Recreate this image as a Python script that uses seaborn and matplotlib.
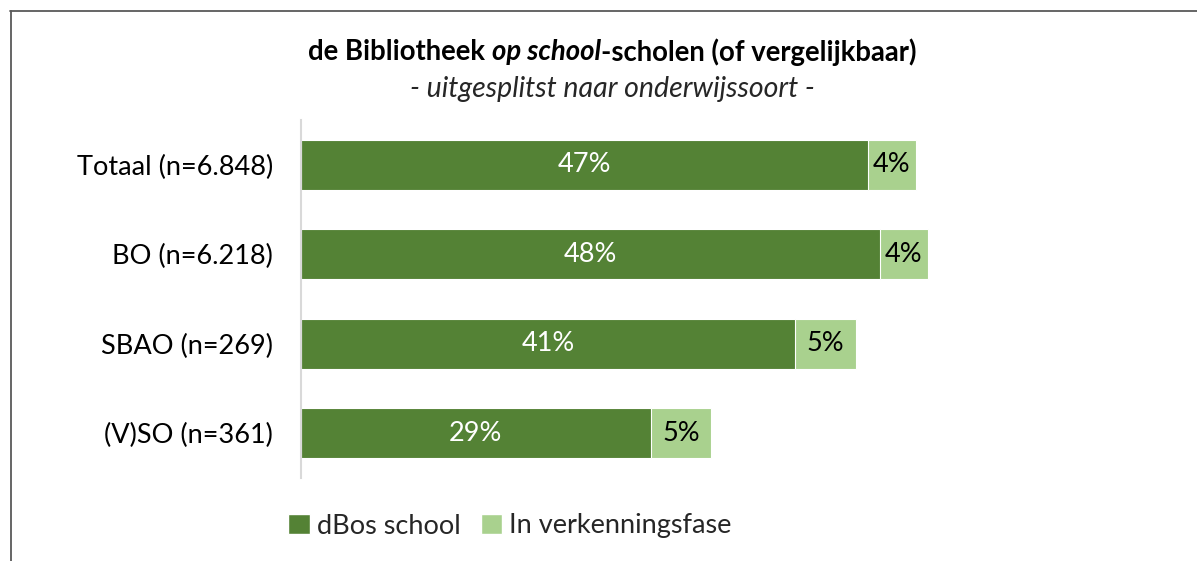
import matplotlib
matplotlib.use("Agg")
import matplotlib.pyplot as plt
import seaborn as sns
import pandas as pd
from matplotlib.lines import Line2D
from matplotlib.patches import Patch

# Data
categories = ["Totaal (n=6.848)", "BO (n=6.218)", "SBAO (n=269)", "(V)SO (n=361)"]
dbos_school = [47, 48, 41, 29]
verkenning = [4, 4, 5, 5]
series_names = ["dBos school", "In verkenningsfase"]

dark_green = "#548235"
light_green = "#A9D18E"

sns.set_theme(style="white")
plt.rcParams["font.family"] = ["Lato", "DejaVu Sans"]

df = pd.DataFrame({"cat": categories, "dbos": dbos_school, "verk": verkenning})
df["totaal"] = df["dbos"] + df["verk"]

W, H = 1197, 561
fs = 19.5
fig = plt.figure(figsize=(W / 100, H / 100), dpi=100)
ax = fig.add_axes([301 / W, 1 - 478 / H, 849 / W, 358 / H])

# gestapelde balken: eerst het totaal (licht), daarna dBos (donker) erover
sns.barplot(data=df, x="totaal", y="cat", color=light_green, width=0.56,
            edgecolor="white", linewidth=0.8, ax=ax, saturation=1)
sns.barplot(data=df, x="dbos", y="cat", color=dark_green, width=0.56,
            edgecolor="white", linewidth=0.8, ax=ax, saturation=1)

ax.set_xlim(0, 849 / 12.06)
ax.set_ylim(3.5, -0.5)
ax.set_xlabel("")
ax.set_ylabel("")
ax.set_xticks([])
ax.tick_params(axis="y", length=0, pad=20, labelsize=fs, labelcolor="black")
for s in ["top", "right", "bottom"]:
    ax.spines[s].set_visible(False)
ax.spines["left"].set_color("#D9D9D9")
ax.spines["left"].set_linewidth(1.5)

# data labels
for i, row in df.iterrows():
    ax.text(row["dbos"] / 2, i, f"{row['dbos']}%", ha="center", va="center",
            color="white", fontsize=fs)
    ax.text(row["dbos"] + row["verk"] / 2, i, f"{row['verk']}%", ha="center",
            va="center", color="black", fontsize=fs)

# titel met gemengde stijl
fig.canvas.draw()
renderer = fig.canvas.get_renderer()
parts = [("de Bibliotheek ", "normal"), ("op school", "italic"),
         ("-scholen (of vergelijkbaar)", "normal")]
ty = 1 - 52 / H
texts = []
for txt, st in parts:
    t = fig.text(0, ty, txt, fontsize=19.8, fontweight="bold", style=st,
                 ha="left", va="center", color="black")
    texts.append(t)
widths = [t.get_window_extent(renderer).width for t in texts]
x0 = 612 - sum(widths) / 2
for t, w in zip(texts, widths):
    t.set_x(x0 / W)
    x0 += w

fig.text(612 / W, 1 - 89 / H, "- uitgesplitst naar onderwijssoort -",
         fontsize=20.5, style="italic", ha="center", va="center", color="#262626")

# legenda
handles = [Patch(facecolor=dark_green, label=series_names[0]),
           Patch(facecolor=light_green, label=series_names[1])]
fig.legend(handles=handles, loc="center", bbox_to_anchor=(510 / W, 1 - 526 / H),
           ncol=2, frameon=False, fontsize=fs, handlelength=0.8, handleheight=0.8,
           handletextpad=0.26, columnspacing=0.74)

# kader
fig.add_artist(Line2D([10.5 / W, 10.5 / W], [0, 1 - 11 / H], color="#595959",
                      linewidth=1.3, transform=fig.transFigure))
fig.add_artist(Line2D([10 / W, 1], [1 - 11 / H, 1 - 11 / H], color="#595959",
                      linewidth=1.3, transform=fig.transFigure))

fig.savefig("out.png", dpi=100)
